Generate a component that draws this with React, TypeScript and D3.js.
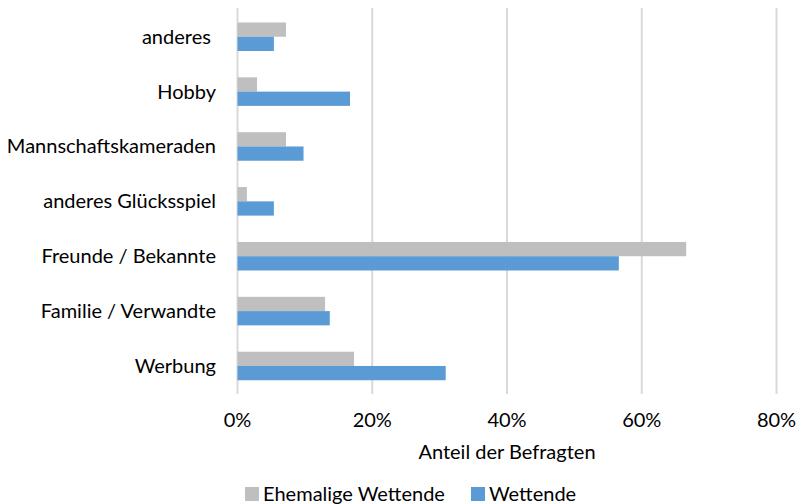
import React, { useRef, useEffect } from 'react';
import * as d3 from 'd3';

const categories = [
  'anderes ',
  'Hobby',
  'Mannschaftskameraden',
  'anderes Glücksspiel',
  'Freunde / Bekannte',
  'Familie / Verwandte',
  'Werbung',
];
const ehemalige = [7.2, 2.9, 7.2, 1.4, 66.6, 13.0, 17.3];
const wettende = [5.4, 16.7, 9.8, 5.4, 56.6, 13.7, 30.9];
const seriesNames = ['Ehemalige Wettende', 'Wettende'];
const ticks = [0, 20, 40, 60, 80];

const W = 799;
const H = 504;
const FONT = 'Lato, "Open Sans", sans-serif';
const FS = '20px';

const App = () => {
  const ref = useRef<SVGSVGElement>(null);

  useEffect(() => {
    const svg = d3.select(ref.current);
    svg.selectAll('*').remove();

    const x = d3.scaleLinear().domain([0, 80]).range([237.5, 776.5]);
    const y = d3.scaleBand().domain(categories).range([9.3, 393.4]).paddingInner(0.48).paddingOuter(0.24);
    const sub = d3.scaleBand().domain(seriesNames).range([0, y.bandwidth()]);
    const colour = d3.scaleOrdinal<string>().domain(seriesNames).range(['#bfbfbf', '#5b9bd5']);

    // gridlines
    svg.append('g')
      .selectAll('line')
      .data(ticks)
      .join('line')
      .attr('x1', d => x(d)).attr('x2', d => x(d))
      .attr('y1', 8).attr('y2', 394)
      .attr('stroke', '#d9d9d9')
      .attr('stroke-width', 2);

    const rows = svg.append('g')
      .selectAll('g')
      .data(categories)
      .join('g')
      .attr('transform', d => `translate(0, ${y(d)})`);

    rows.append('rect')
      .attr('x', x(0))
      .attr('y', sub('Ehemalige Wettende')!)
      .attr('width', (_, i) => x(ehemalige[i]) - x(0))
      .attr('height', sub.bandwidth())
      .attr('fill', colour('Ehemalige Wettende'));

    rows.append('rect')
      .attr('x', x(0))
      .attr('y', sub('Wettende')!)
      .attr('width', (_, i) => x(wettende[i]) - x(0))
      .attr('height', sub.bandwidth())
      .attr('fill', colour('Wettende'));

    // category labels
    rows.append('text')
      .attr('x', 216)
      .attr('y', y.bandwidth() / 2)
      .attr('dy', '0.35em')
      .attr('text-anchor', 'end')
      .style('font-family', FONT)
      .style('font-size', FS)
      .style('white-space', 'pre')
      .attr('fill', '#000')
      .text(d => d);

    // tick labels
    svg.append('g')
      .selectAll('text')
      .data(ticks)
      .join('text')
      .attr('x', d => x(d))
      .attr('y', 420)
      .attr('dy', '0.35em')
      .attr('text-anchor', 'middle')
      .style('font-family', FONT)
      .style('font-size', FS)
      .text(d => d + '%');

    svg.append('text')
      .attr('x', x(40))
      .attr('y', 452)
      .attr('dy', '0.35em')
      .attr('text-anchor', 'middle')
      .style('font-family', FONT)
      .style('font-size', FS)
      .text('Anteil der Befragten');

    // legend
    const legendX = [245, 471];
    const legend = svg.append('g')
      .selectAll('g')
      .data(seriesNames)
      .join('g')
      .attr('transform', (_, i) => `translate(${legendX[i]}, 494)`);
    legend.append('rect')
      .attr('x', 0).attr('y', -7)
      .attr('width', 14).attr('height', 14)
      .attr('fill', d => colour(d));
    legend.append('text')
      .attr('x', 18)
      .attr('dy', '0.35em')
      .style('font-family', FONT)
      .style('font-size', FS)
      .text(d => d);

    return () => {
      svg.selectAll('*').remove();
    };
  }, []);

  return (
    <svg ref={ref} width={W} height={H} style={{ position: 'absolute', left: 0, top: 0, background: '#fff' }} />
  );
};

export default App;
